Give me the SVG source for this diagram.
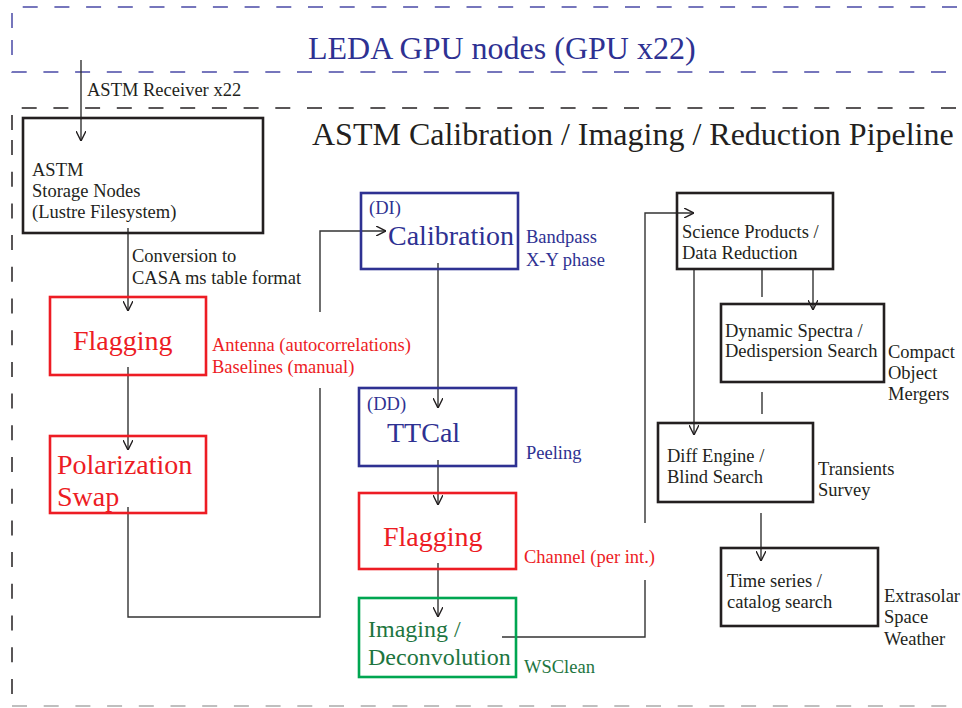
<svg xmlns="http://www.w3.org/2000/svg" width="962" height="708" viewBox="0 0 962 708">
<style>
text{font-family:"Liberation Serif","Times New Roman",serif;}
.s{font-size:18.5px;}
.big{font-size:28px;}
.blk{fill:#231f20;}
.blu{fill:#2e3192;}
.red{fill:#ed1c24;}
.grn{fill:#1d7540;}
.box{fill:none;stroke-width:2.6;}
.kb{stroke:#231f20;}
.bb{stroke:#2e3192;}
.rb{stroke:#ed1c24;}
.gb{stroke:#00a651;}
.c{fill:none;stroke:#333;stroke-width:1.4;}
.d{fill:none;stroke-width:1.5;stroke-dasharray:15 16.7;}
</style>
<defs>
<marker id="a" viewBox="0 0 10 10" refX="10" refY="5" markerWidth="10" markerHeight="10" markerUnits="userSpaceOnUse" orient="auto">
<path d="M0,0 L10,5 L0,10" fill="none" stroke="#231f20" stroke-width="1.4"/>
</marker>
</defs>
<rect width="962" height="708" fill="#fff"/>
<g id="leda-region">
<path class="d" stroke="#4a4aa6" d="M12,28 V7 H980"/>
<path class="d" stroke="#4a4aa6" d="M12,40 V72 H980"/>
<text x="308" y="59" class="blu" style="font-size:32px">LEDA GPU nodes (GPU x22)</text>
</g>
<g id="pipeline-region">
<path class="d" stroke="#231f20" d="M12,130 V108 H980"/>
<path class="d" stroke="#231f20" d="M12,140 V706"/>
<path class="d" stroke="#aaa" d="M12,706 H980"/>
<text x="312" y="145" class="blk" style="font-size:32px">ASTM Calibration / Imaging / Reduction Pipeline</text>
</g>
<g id="connectors">
<line class="c" x1="81" y1="60" x2="81" y2="141" marker-end="url(#a)"/>
<line class="c" x1="128" y1="228" x2="128" y2="311" marker-end="url(#a)"/>
<line class="c" x1="128" y1="367" x2="128" y2="450" marker-end="url(#a)"/>
<path class="c" d="M128,507 V617 H320 V388"/>
<path class="c" d="M320,312 V231 H386" marker-end="url(#a)"/>
<line class="c" x1="438" y1="263" x2="438" y2="408" marker-end="url(#a)"/>
<line class="c" x1="438" y1="460" x2="438" y2="505" marker-end="url(#a)"/>
<line class="c" x1="438" y1="563" x2="438" y2="617" marker-end="url(#a)"/>
<path class="c" d="M502,637 H645 V580"/>
<path class="c" d="M645,523 V213 H694" marker-end="url(#a)"/>
<line class="c" x1="694" y1="270" x2="694" y2="435" marker-end="url(#a)"/>
<line class="c" x1="813" y1="270" x2="813" y2="310" marker-end="url(#a)"/>
<line class="c" x1="762" y1="270" x2="762" y2="297"/>
<line class="c" x1="762" y1="392" x2="762" y2="414"/>
<line class="c" x1="761" y1="513" x2="761" y2="561" marker-end="url(#a)"/>
<text x="87" y="96" class="s blk">ASTM Receiver x22</text>
<text x="132" y="262" class="s blk">Conversion to</text>
<text x="132" y="284" class="s blk">CASA ms table format</text>
</g>
<g id="storage">
<rect class="box kb" x="23" y="118" width="240" height="115"/>
<text x="32" y="176" class="s blk">ASTM</text>
<text x="32" y="197" class="s blk">Storage Nodes</text>
<text x="32" y="218" class="s blk">(Lustre Filesystem)</text>
</g>
<g id="flagging1">
<rect class="box rb" x="50" y="297" width="156" height="78"/>
<text x="73" y="350" class="big red">Flagging</text>
<text x="212" y="351" class="s red">Antenna (autocorrelations)</text>
<text x="212" y="373" class="s red">Baselines (manual)</text>
</g>
<g id="polswap">
<rect class="box rb" x="50" y="436" width="156" height="77"/>
<text x="57" y="474" class="big red">Polarization</text>
<text x="57" y="506" class="big red">Swap</text>
</g>
<g id="calibration">
<rect class="box bb" x="361" y="193" width="157" height="76"/>
<text x="369" y="214" class="s blu">(DI)</text>
<text x="388" y="245" class="big blu">Calibration</text>
<text x="526" y="243" class="s blu">Bandpass</text>
<text x="526" y="266" class="s blu">X-Y phase</text>
</g>
<g id="ttcal">
<rect class="box bb" x="359" y="388" width="157" height="78"/>
<text x="367" y="410" class="s blu">(DD)</text>
<text x="387" y="442" class="big blu">TTCal</text>
<text x="526" y="459" class="s blu">Peeling</text>
</g>
<g id="flagging2">
<rect class="box rb" x="359" y="493" width="157" height="76"/>
<text x="383" y="546" class="big red">Flagging</text>
<text x="524" y="563" class="s red">Channel (per int.)</text>
</g>
<g id="imaging">
<rect class="box gb" x="359" y="598" width="157" height="79"/>
<text x="368" y="637" class="grn" style="font-size:24px">Imaging /</text>
<text x="368" y="665" class="grn" style="font-size:24px">Deconvolution</text>
<text x="524" y="673" class="s grn">WSClean</text>
</g>
<g id="science">
<rect class="box kb" x="677" y="193" width="156" height="76"/>
<text x="682" y="238" class="s blk">Science Products /</text>
<text x="682" y="259" class="s blk">Data Reduction</text>
</g>
<g id="dynamic">
<rect class="box kb" x="721" y="304" width="163" height="78"/>
<text x="725" y="337" class="s blk">Dynamic Spectra /</text>
<text x="725" y="357" class="s blk">Dedispersion Search</text>
<text x="888" y="358" class="s blk">Compact</text>
<text x="888" y="379" class="s blk">Object</text>
<text x="888" y="400" class="s blk">Mergers</text>
</g>
<g id="diff">
<rect class="box kb" x="658" y="423" width="155" height="79"/>
<text x="667" y="462" class="s blk">Diff Engine /</text>
<text x="667" y="483" class="s blk">Blind Search</text>
<text x="818" y="475" class="s blk">Transients</text>
<text x="818" y="496" class="s blk">Survey</text>
</g>
<g id="timeseries">
<rect class="box kb" x="721" y="548" width="157" height="78"/>
<text x="727" y="587" class="s blk">Time series /</text>
<text x="727" y="608" class="s blk">catalog search</text>
<text x="884" y="602" class="s blk">Extrasolar</text>
<text x="884" y="623" class="s blk">Space</text>
<text x="884" y="645" class="s blk">Weather</text>
</g>
</svg>
